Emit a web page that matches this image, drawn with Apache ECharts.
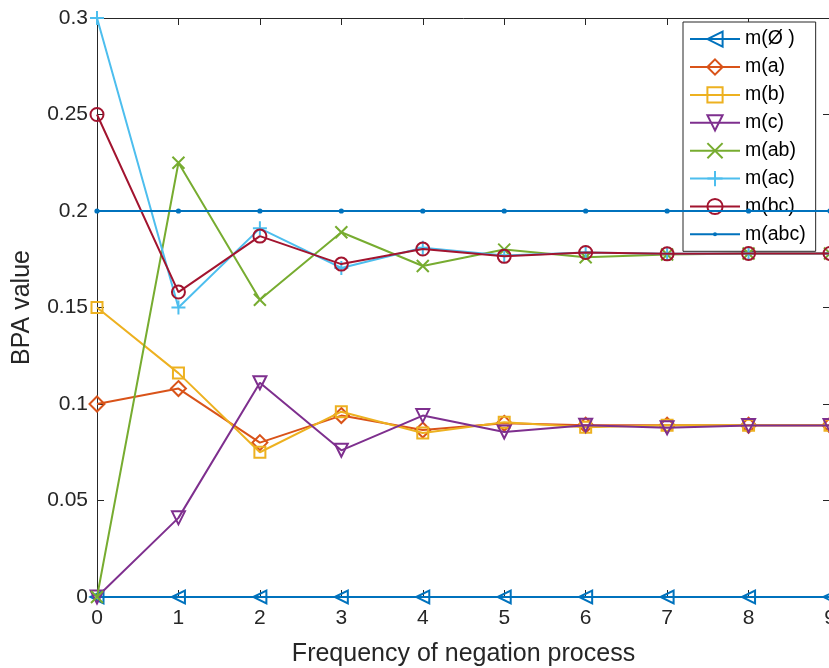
<!DOCTYPE html>
<html>
<head>
<meta charset="utf-8">
<script src="https://cdn.jsdelivr.net/npm/echarts@6/dist/echarts.min.js"></script>
<style>html,body{margin:0;padding:0;background:#fff;}#c{width:829px;height:668px;}</style>
</head>
<body>
<div id="c"></div>
<script>
const xs = [0, 1, 2, 3, 4, 5, 6, 7, 8, 9];
const names = ['m(Ø )', 'm(a)', 'm(b)', 'm(c)', 'm(ab)', 'm(ac)', 'm(bc)', 'm(abc)'];
const mEmpty = [0, 0, 0, 0, 0, 0, 0, 0, 0, 0];
const mA   = [0.1, 0.108, 0.080, 0.094, 0.0865, 0.090, 0.089, 0.089, 0.089, 0.089];
const mB   = [0.15, 0.116, 0.075, 0.096, 0.085, 0.0905, 0.088, 0.089, 0.089, 0.089];
const mC   = [0, 0.041, 0.111, 0.076, 0.094, 0.0855, 0.089, 0.0877, 0.0888, 0.0888];
const mAB  = [0, 0.225, 0.154, 0.189, 0.1715, 0.180, 0.1760, 0.1775, 0.178, 0.178];
const mAC  = [0.3, 0.150, 0.191, 0.1705, 0.181, 0.177, 0.1785, 0.1778, 0.178, 0.178];
const mBC  = [0.25, 0.158, 0.187, 0.1725, 0.1803, 0.1765, 0.1785, 0.1778, 0.178, 0.178];
const mABC = [0.2, 0.2, 0.2, 0.2, 0.2, 0.2, 0.2, 0.2, 0.2, 0.2];
const yTicks = [0, 0.05, 0.1, 0.15, 0.2, 0.25, 0.3];

const colors = ['#0072BD', '#D95319', '#EDB120', '#7E2F8E', '#77AC30', '#4DBEEE', '#A2142F', '#0072BD'];
const XPATH = 'path://M0,0L10,10M10,0L0,10';
const PLUSPATH = 'path://M5,0L5,10M0,5L10,5';
const DOTPATH = 'path://M0,0M20,20M10,7.4A2.6,2.6,0,1,1,10,12.6A2.6,2.6,0,1,1,10,7.4Z';
const symbols = [
  {symbol: 'triangle', size: 13, rotate: 90},
  {symbol: 'diamond', size: 15, rotate: 0},
  {symbol: 'rect', size: 11, rotate: 0},
  {symbol: 'triangle', size: 13, rotate: 180},
  {symbol: XPATH, size: 12, rotate: 0},
  {symbol: PLUSPATH, size: 14, rotate: 0},
  {symbol: 'circle', size: 13, rotate: 0},
  {symbol: DOTPATH, size: 20, rotate: 0, filled: true}
];
const datasets = [mEmpty, mA, mB, mC, mAB, mAC, mBC, mABC];
const FONT = 'Liberation Sans';
const TXT = '#262626';

const series = datasets.map((d, i) => ({
  name: names[i],
  type: 'line',
  data: xs.map((x, k) => [x, d[k]]),
  symbol: symbols[i].symbol,
  symbolSize: symbols[i].size,
  symbolRotate: symbols[i].rotate,
  showAllSymbol: true,
  clip: false,
  lineStyle: {color: colors[i], width: 2},
  itemStyle: symbols[i].filled
    ? {color: colors[i], borderWidth: 0}
    : {color: 'none', borderColor: colors[i], borderWidth: 2},
  emphasis: {disabled: true},
  z: 2 + i
}));

const axisCommon = {
  axisLine: {show: true, onZero: false, lineStyle: {color: TXT, width: 1}},
  axisTick: {show: true, inside: true, length: 7, lineStyle: {color: TXT}},
  splitLine: {show: false}
};

const chart = echarts.init(document.getElementById('c'), null, {renderer: 'canvas'});
chart.setOption({
  animation: false,
  backgroundColor: '#fff',
  color: colors,
  grid: {left: 97, top: 18, width: 733, height: 579, containLabel: false, outerBoundsMode: 'none'},
  legend: {
    orient: 'vertical',
    left: 683,
    top: 22,
    width: 133,
    padding: [7, 10, 7, 6],
    itemWidth: 50,
    itemHeight: 19,
    itemGap: 7.7,
    backgroundColor: '#fff',
    borderColor: '#262626',
    borderWidth: 1,
    textStyle: {fontFamily: FONT, fontSize: 19.5, color: '#000'},
    data: names
  },
  xAxis: [
    Object.assign({}, axisCommon, {
      type: 'value', min: 0, max: 9, interval: 1, position: 'bottom',
      name: 'Frequency of negation process', nameLocation: 'middle', nameGap: 45,
      nameTextStyle: {fontFamily: FONT, fontSize: 25, color: TXT},
      axisLabel: {fontFamily: FONT, fontSize: 21, color: TXT, margin: 11}
    }),
    Object.assign({}, axisCommon, {
      type: 'value', min: 0, max: 9, interval: 1, position: 'top',
      axisLabel: {show: false}
    })
  ],
  yAxis: [
    Object.assign({}, axisCommon, {
      type: 'value', min: 0, max: 0.3, interval: 0.05, position: 'left',
      name: 'BPA value', nameLocation: 'middle', nameGap: 62,
      nameTextStyle: {fontFamily: FONT, fontSize: 25, color: TXT},
      axisLabel: {fontFamily: FONT, fontSize: 21, color: TXT, margin: 9,
        formatter: v => { const t = yTicks.find(a => Math.abs(a - v) < 1e-9); return t === undefined ? '' : String(t); }}
    }),
    Object.assign({}, axisCommon, {
      type: 'value', min: 0, max: 0.3, interval: 0.05, position: 'right',
      axisLabel: {show: false}
    })
  ],
  series: series
});
</script>
</body>
</html>
